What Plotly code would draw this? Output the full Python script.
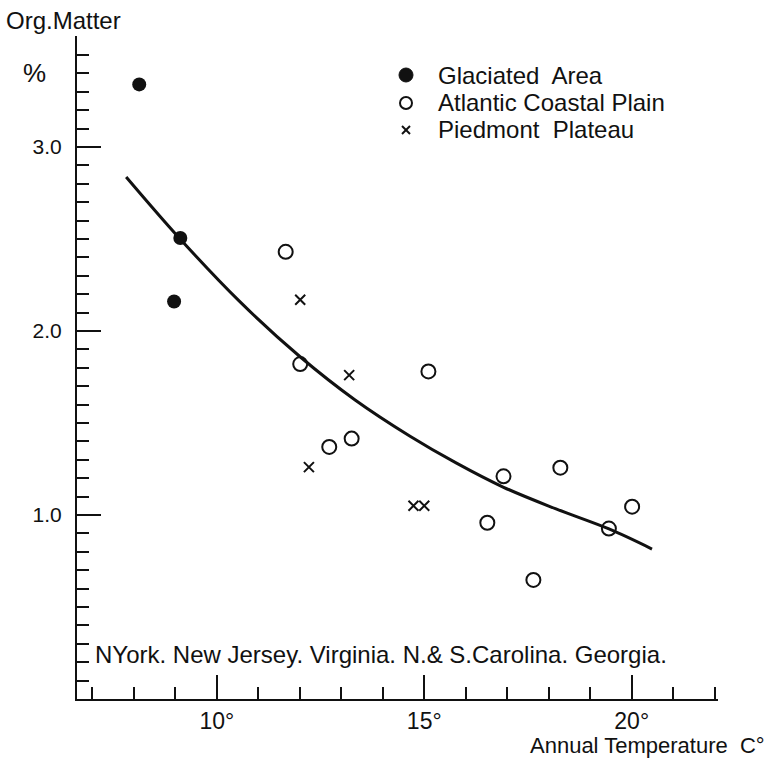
import plotly.graph_objects as go

# ---- data ----
glaciated_temp = [8.13, 9.12, 8.97]
glaciated_om = [3.34, 2.505, 2.16]

atlantic_temp = [11.66, 12.01, 12.71, 13.25, 15.10, 16.91, 18.28, 16.52, 20.01, 19.45, 17.63]
atlantic_om = [2.43, 1.82, 1.37, 1.415, 1.78, 1.21, 1.257, 0.958, 1.045, 0.926, 0.647]

piedmont_temp = [12.01, 13.19, 12.22, 14.74, 15.00]
piedmont_om = [2.17, 1.76, 1.26, 1.05, 1.05]

curve_temp = [7.815, 9.116, 10.561, 12.007, 13.333, 14.658, 15.767, 16.899, 18.176, 19.453, 20.489]
curve_om = [2.837, 2.50, 2.158, 1.86, 1.625, 1.428, 1.283, 1.152, 1.033, 0.924, 0.815]

series_names = ["Glaciated  Area", "Atlantic Coastal Plain", "Piedmont  Plateau"]

x_major = [10, 15, 20]
x_major_text = ["10°", "15°", "20°"]
x_minor = list(range(7, 23))
y_major = [0.5, 1.0, 1.5, 2.0, 2.5, 3.0, 3.5]
y_major_text = ["", "1.0", "", "2.0", "", "3.0", ""]
y_minor = [round(0.1 * i, 1) for i in range(1, 36)]

FONT = "Liberation Sans, Arial, sans-serif"
INK = "#111111"

W, H = 769, 759
ML, MR, MT, MB = 77, 51, 36, 60
PW, PH = W - ML - MR, H - MT - MB


def px(x):
    return (x - ML) / PW


def py(y):
    return 1 - (y - MT) / PH


fig = go.Figure()

fig.add_trace(go.Scatter(
    x=curve_temp, y=curve_om, mode="lines",
    line=dict(color=INK, width=3, shape="spline", smoothing=1.0),
    showlegend=False, hoverinfo="skip"))

fig.add_trace(go.Scatter(
    x=glaciated_temp, y=glaciated_om, mode="markers", name=series_names[0], showlegend=False,
    marker=dict(symbol="circle", size=14, color=INK)))

fig.add_trace(go.Scatter(
    x=atlantic_temp, y=atlantic_om, mode="markers", name=series_names[1], showlegend=False,
    marker=dict(symbol="circle-open", size=14, color=INK, line=dict(width=2, color=INK))))

fig.add_trace(go.Scatter(
    x=piedmont_temp, y=piedmont_om, mode="markers", name=series_names[2], showlegend=False,
    marker=dict(symbol="x-thin-open", size=10, color=INK, line=dict(width=2, color=INK))))

fig.update_layout(
    width=W, height=H,
    margin=dict(l=ML, r=MR, t=MT, b=MB),
    paper_bgcolor="white", plot_bgcolor="white",
    font=dict(family=FONT, color=INK),
    showlegend=False,
    xaxis=dict(
        range=[6.63, 22.08], showgrid=False, zeroline=False,
        showline=True, linecolor=INK, linewidth=2,
        tickmode="array", tickvals=x_major, ticktext=x_major_text,
        ticks="inside", ticklen=24, tickwidth=2, tickcolor=INK,
        tickfont=dict(family=FONT, size=23, color=INK), ticklabelstandoff=0,
        minor=dict(tickvals=x_minor, ticks="inside", ticklen=12, tickwidth=2, tickcolor=INK, showgrid=False),
    ),
    yaxis=dict(
        range=[0, 3.603], showgrid=False, zeroline=False,
        showline=True, linecolor=INK, linewidth=2,
        tickmode="array", tickvals=y_major, ticktext=y_major_text,
        ticks="inside", ticklen=24, tickwidth=2, tickcolor=INK,
        tickfont=dict(family=FONT, size=21, color=INK), ticklabelstandoff=9,
        minor=dict(tickvals=y_minor, ticks="inside", ticklen=12, tickwidth=2, tickcolor=INK, showgrid=False),
    ),
)

# legend drawn by hand (keys + labels)
leg_x = px(406)
leg_rows = [py(75), py(103), py(130)]
shapes = [
    dict(type="circle", xref="paper", yref="paper", xsizemode="pixel", ysizemode="pixel",
         xanchor=leg_x, yanchor=leg_rows[0], x0=-7, x1=7, y0=-7, y1=7,
         fillcolor=INK, line=dict(color=INK, width=1)),
    dict(type="circle", xref="paper", yref="paper", xsizemode="pixel", ysizemode="pixel",
         xanchor=leg_x, yanchor=leg_rows[1], x0=-6, x1=6, y0=-6, y1=6,
         fillcolor="rgba(0,0,0,0)", line=dict(color=INK, width=2)),
    dict(type="line", xref="paper", yref="paper", xsizemode="pixel", ysizemode="pixel",
         xanchor=leg_x, yanchor=leg_rows[2], x0=-4, x1=4, y0=-4, y1=4, line=dict(color=INK, width=2)),
    dict(type="line", xref="paper", yref="paper", xsizemode="pixel", ysizemode="pixel",
         xanchor=leg_x, yanchor=leg_rows[2], x0=-4, x1=4, y0=4, y1=-4, line=dict(color=INK, width=2)),
]

annotations = []
for name, ry in zip(series_names, leg_rows):
    annotations.append(dict(text=name, xref="paper", yref="paper", x=px(436), y=ry,
                            xanchor="left", yanchor="middle", showarrow=False,
                            font=dict(family=FONT, size=24, color=INK)))

annotations += [
    dict(text="Org.Matter", xref="paper", yref="paper", x=px(4), y=py(20),
         xanchor="left", yanchor="middle", showarrow=False, font=dict(family=FONT, size=24, color=INK)),
    dict(text="%", xref="paper", yref="paper", x=px(34), y=py(73),
         xanchor="center", yanchor="middle", showarrow=False, font=dict(family=FONT, size=26, color=INK)),
    dict(text="Annual Temperature  C°", xref="paper", yref="paper", x=px(767), y=py(745),
         xanchor="right", yanchor="middle", showarrow=False, font=dict(family=FONT, size=22, color=INK)),
    dict(text="NYork. New Jersey. Virginia. N.& S.Carolina. Georgia.", xref="x", yref="y",
         x=7.02, y=0.24, xanchor="left", yanchor="middle", showarrow=False,
         font=dict(family=FONT, size=24, color=INK)),
]
fig.update_layout(annotations=annotations, shapes=shapes)

fig.write_html("out.html")
